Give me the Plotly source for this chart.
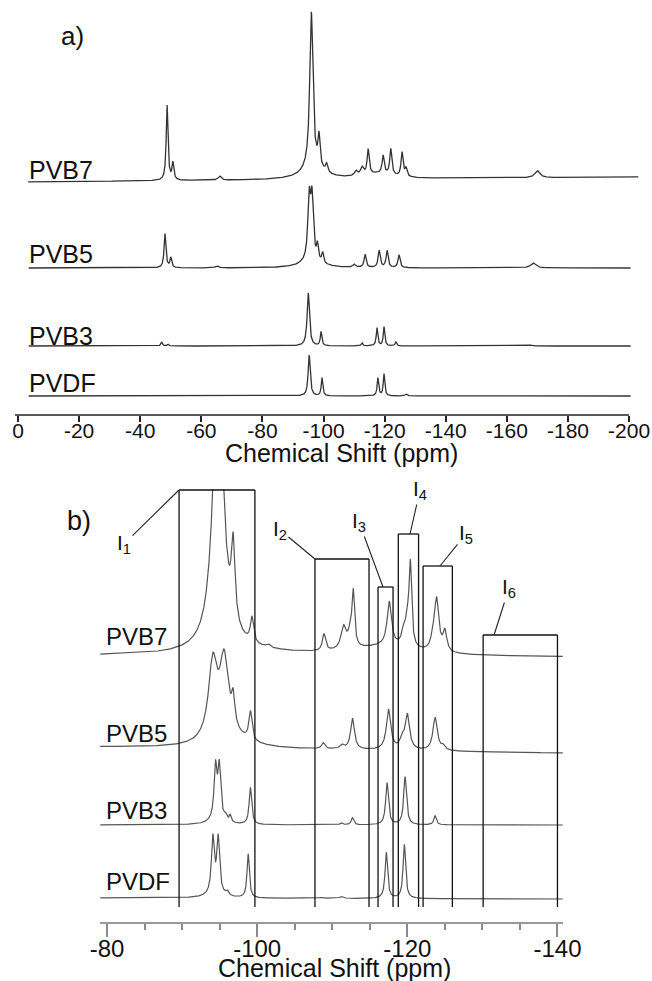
import numpy as np
import plotly.graph_objects as go

W, H = 652, 981
FONT = "Arial, 'Liberation Sans', sans-serif"

# ---------------- a) full-range 19F NMR spectra ----------------
# each spectrum: peak shifts (ppm), peak heights, half-widths (ppm), baseline level (left, right)
A_PVB7_SHIFT = [-48.8, -50.7, -66.0, -96.0, -96.5, -98.5, -101.0, -110.6, -112.6, -114.6, -119.5, -122.0, -125.7, -127.0, -118.0, -170.0]
A_PVB7_HEIGHT = [75, 17, 4, 155, 12, 30, 8, 5, 8, 25, 18, 26, 24, 8, 5, 7]
A_PVB7_WIDTH = [0.35, 0.35, 0.6, 0.6, 4.0, 0.4, 0.4, 0.6, 0.6, 0.4, 0.4, 0.4, 0.4, 0.4, 6.0, 1.0]
A_PVB7_BASE = [233, 238]

A_PVB5_SHIFT = [-48.1, -50.0, -65.0, -95.3, -96.2, -96.0, -98.0, -99.7, -110.0, -113.6, -118.2, -120.8, -124.7, -168.6]
A_PVB5_HEIGHT = [34, 10, 2, 60, 60, 7, 15, 10, 3, 13, 17, 17, 13, 5]
A_PVB5_WIDTH = [0.35, 0.35, 0.6, 0.5, 0.5, 4.0, 0.35, 0.35, 0.5, 0.4, 0.4, 0.4, 0.4, 1.0]
A_PVB5_BASE = [147, 147]

A_PVB3_SHIFT = [-47.0, -49.0, -95.0, -99.2, -112.6, -117.5, -119.8, -123.7, -168.0]
A_PVB3_HEIGHT = [4, 2, 53, 14, 3, 18, 19, 4, 1]
A_PVB3_WIDTH = [0.3, 0.3, 0.45, 0.3, 0.3, 0.3, 0.3, 0.3, 0.5]
A_PVB3_BASE = [69, 69]

A_PVDF_SHIFT = [-95.3, -99.5, -117.8, -119.8, -127.0]
A_PVDF_HEIGHT = [41, 18, 18, 22, 2]
A_PVDF_WIDTH = [0.4, 0.3, 0.3, 0.3, 0.4]
A_PVDF_BASE = [19, 19]

A_TICKS = [0, -20, -40, -60, -80, -100, -120, -140, -160, -180, -200]
A_TICK_TEXT = ["0", "-20", "-40", "-60", "-80", "-100", "-120", "-140", "-160", "-180", "-200"]

# ---------------- b) expanded region with integration windows ----------------
B_PVB7_SHIFT = [-94.8, -96.8, -99.3, -101.5, -97.0, -108.9, -111.5, -112.4, -112.8, -117.0,
                -117.6, -119.5, -120.0, -120.4, -123.4, -123.9, -125.0]
B_PVB7_HEIGHT = [293, 78, 25, 3, 5, 17, 22, 14, 52, 9,
                 44, 14, 22, 80, 9, 52, 20]
B_PVB7_WIDTH = [0.8, 0.3, 0.25, 0.3, 8.0, 0.25, 0.4, 0.4, 0.2, 5.0,
                0.35, 0.3, 0.3, 0.2, 0.3, 0.35, 0.3]
B_PVB7_BASE = [267, 266]

B_PVB5_SHIFT = [-94.1, -95.6, -96.0, -96.8, -99.1, -108.8, -111.3, -112.7, -117.5, -119.3, -120.0, -123.7, -124.8]
B_PVB5_HEIGHT = [75, 75, 10, 27, 29, 6, 4, 31, 40, 10, 35, 33, 4]
B_PVB5_WIDTH = [0.7, 0.7, 3.0, 0.25, 0.25, 0.25, 0.3, 0.3, 0.35, 0.3, 0.35, 0.35, 0.3]
B_PVB5_BASE = [176, 170]

B_PVB3_SHIFT = [-94.45, -94.95, -94.7, -95.8, -96.4, -99.1, -111.2, -112.7, -117.3, -119.7, -123.7]
B_PVB3_HEIGHT = [52, 52, 5, 5, 7, 37, 2, 7, 42, 48, 9]
B_PVB3_WIDTH = [0.22, 0.22, 1.2, 0.2, 0.15, 0.2, 0.2, 0.2, 0.22, 0.22, 0.2]
B_PVB3_BASE = [98, 98]

B_PVDF_SHIFT = [-94.1, -94.8, -94.45, -96.0, -98.8, -108.5, -111.2, -117.2, -119.6]
B_PVDF_HEIGHT = [55, 55, 5, 4, 44, 1, 2, 46, 54]
B_PVDF_WIDTH = [0.22, 0.22, 1.2, 0.2, 0.18, 0.3, 0.3, 0.2, 0.2]
B_PVDF_BASE = [25, 24]

B_TICKS = [-80, -100, -120, -140]
B_TICK_TEXT = ["-80", "-100", "-120", "-140"]
B_MINOR = [-85, -90, -95, -105, -110, -115, -125, -130, -135]

# integration windows (ppm)
INT_NAMES = ["I<sub>1</sub>", "I<sub>2</sub>", "I<sub>3</sub>", "I<sub>4</sub>", "I<sub>5</sub>", "I<sub>6</sub>"]
INT_FROM = [-89.6, -107.7, -116.1, -118.8, -122.1, -130.1]
INT_TO = [-99.7, -114.9, -118.1, -121.5, -126.0, -140.0]


def lorentz_sum(grid, shifts, heights, widths, base):
    y = np.linspace(base[0], base[1], grid.size)
    for c, h, w in zip(shifts, heights, widths):
        y = y + h / (1.0 + ((grid - c) / w) ** 2)
    return y


def px_x(p):
    return p / W


def px_y(p):
    return 1 - p / H


# panel geometry (pixels from top of page)
A_TOP, A_AXIS = 5, 415
B_TOP, B_AXIS = 489, 923

fig = go.Figure()

LINE_A = dict(color="#333333", width=1.3)
LINE_B = dict(color="#555555", width=1.2)

grid_a_long = np.linspace(-3.3, -203.0, 5000)
grid_a = np.linspace(-3.5, -200.5, 5000)
fig.add_trace(go.Scatter(x=grid_a_long, y=lorentz_sum(grid_a_long, A_PVB7_SHIFT, A_PVB7_HEIGHT, A_PVB7_WIDTH, A_PVB7_BASE),
                         mode="lines", line=LINE_A, xaxis="x", yaxis="y", hoverinfo="skip"))
for s, h, w, b in [(A_PVB5_SHIFT, A_PVB5_HEIGHT, A_PVB5_WIDTH, A_PVB5_BASE),
                   (A_PVB3_SHIFT, A_PVB3_HEIGHT, A_PVB3_WIDTH, A_PVB3_BASE),
                   (A_PVDF_SHIFT, A_PVDF_HEIGHT, A_PVDF_WIDTH, A_PVDF_BASE)]:
    fig.add_trace(go.Scatter(x=grid_a, y=lorentz_sum(grid_a, s, h, w, b), mode="lines", line=LINE_A,
                             xaxis="x", yaxis="y", hoverinfo="skip"))

grid_b = np.linspace(-79.1, -140.7, 5000)
for s, h, w, b in [(B_PVB7_SHIFT, B_PVB7_HEIGHT, B_PVB7_WIDTH, B_PVB7_BASE),
                   (B_PVB5_SHIFT, B_PVB5_HEIGHT, B_PVB5_WIDTH, B_PVB5_BASE),
                   (B_PVB3_SHIFT, B_PVB3_HEIGHT, B_PVB3_WIDTH, B_PVB3_BASE),
                   (B_PVDF_SHIFT, B_PVDF_HEIGHT, B_PVDF_WIDTH, B_PVDF_BASE)]:
    fig.add_trace(go.Scatter(x=grid_b, y=lorentz_sum(grid_b, s, h, w, b), mode="lines", line=LINE_B,
                             xaxis="x2", yaxis="y2", hoverinfo="skip"))

# ---- integration boxes in panel b ----
box_top = [433, 364, 336, 389, 357, 288]
box_bottom = 16
shapes = []
for x0, x1, t in zip(INT_FROM, INT_TO, box_top):
    shapes.append(dict(type="line", xref="x2", yref="y2", x0=x0, x1=x0, y0=box_bottom, y1=t,
                       line=dict(color="#111111", width=1.3)))
    shapes.append(dict(type="line", xref="x2", yref="y2", x0=x1, x1=x1, y0=box_bottom, y1=t,
                       line=dict(color="#111111", width=1.3)))
    shapes.append(dict(type="line", xref="x2", yref="y2", x0=x0, x1=x1, y0=t, y1=t,
                       line=dict(color="#111111", width=1.3)))

# axis baselines
shapes.append(dict(type="line", xref="paper", yref="paper", x0=px_x(15), x1=px_x(629),
                   y0=px_y(A_AXIS), y1=px_y(A_AXIS), line=dict(color="#222222", width=1.6)))
shapes.append(dict(type="line", xref="paper", yref="paper", x0=px_x(100), x1=px_x(563),
                   y0=px_y(B_AXIS), y1=px_y(B_AXIS), line=dict(color="#9a9a9a", width=2)))

annotations = []


def label(text, x, y, size, xanchor="left"):
    annotations.append(dict(text=text, x=px_x(x), y=px_y(y), xref="paper", yref="paper",
                            xanchor=xanchor, yanchor="middle", showarrow=False,
                            font=dict(family=FONT, size=size, color="#111111")))


label("a)", 72, 36, 26, "center")
label("b)", 79, 521, 27, "center")
for name, yc in zip(["PVB7", "PVB5", "PVB3", "PVDF"], [169.5, 254, 336, 383]):
    label(name, 27, yc, 25)
for name, yc in zip(["PVB7", "PVB5", "PVB3", "PVDF"], [636, 733, 810, 881.5]):
    label(name, 104, yc, 24)
label("Chemical Shift (ppm)", 341, 453.5, 25, "center")
label("Chemical Shift (ppm)", 334.5, 968, 25, "center")

# integration labels with leader lines to the boxes
lead_x = [-89.59, -107.70, -116.76, -120.36, -124.35, -131.55]
lead_y = [433, 364, 336, 389, 357, 288]
lead_dx = [-55, -35, -24, 10, 26, 15]
lead_dy = [54, -29, -65, -44, -32, -47]
for name, x, y, dx, dy in zip(INT_NAMES, lead_x, lead_y, lead_dx, lead_dy):
    annotations.append(dict(text=name, x=x, y=y, xref="x2", yref="y2", ax=dx, ay=dy,
                            showarrow=True, arrowhead=0, arrowwidth=1.1, arrowcolor="#222222",
                            standoff=0, startstandoff=0,
                            font=dict(family=FONT, size=21, color="#111111")))

fig.update_layout(
    width=W, height=H,
    margin=dict(l=0, r=0, t=0, b=0),
    paper_bgcolor="white", plot_bgcolor="white",
    showlegend=False,
    shapes=shapes, annotations=annotations,
    xaxis=dict(domain=[0, 1], range=[5.89, -207.5], anchor="y", showgrid=False, zeroline=False,
               showline=False, tickmode="array", tickvals=A_TICKS, ticktext=A_TICK_TEXT,
               ticks="outside", ticklen=6, tickwidth=1.5, tickcolor="#222222",
               ticklabelstandoff=-9,
               tickfont=dict(family=FONT, size=21, color="#111111")),
    yaxis=dict(domain=[px_y(A_AXIS), px_y(A_TOP)], range=[0, A_AXIS - A_TOP], visible=False),
    xaxis2=dict(domain=[0, 1], range=[-65.75, -152.59], anchor="y2", showgrid=False, zeroline=False,
                showline=False, tickmode="array", tickvals=B_TICKS, ticktext=B_TICK_TEXT,
                ticks="outside", ticklen=13, tickwidth=1.5, tickcolor="#8a8a8a",
                ticklabelstandoff=-9,
                tickfont=dict(family=FONT, size=24, color="#111111"),
                minor=dict(tickmode="array", tickvals=B_MINOR, ticks="outside", ticklen=6,
                           tickwidth=1.5, tickcolor="#8a8a8a")),
    yaxis2=dict(domain=[px_y(B_AXIS), px_y(B_TOP)], range=[0, B_AXIS - B_TOP], visible=False),
)

fig.write_html("out.html")
